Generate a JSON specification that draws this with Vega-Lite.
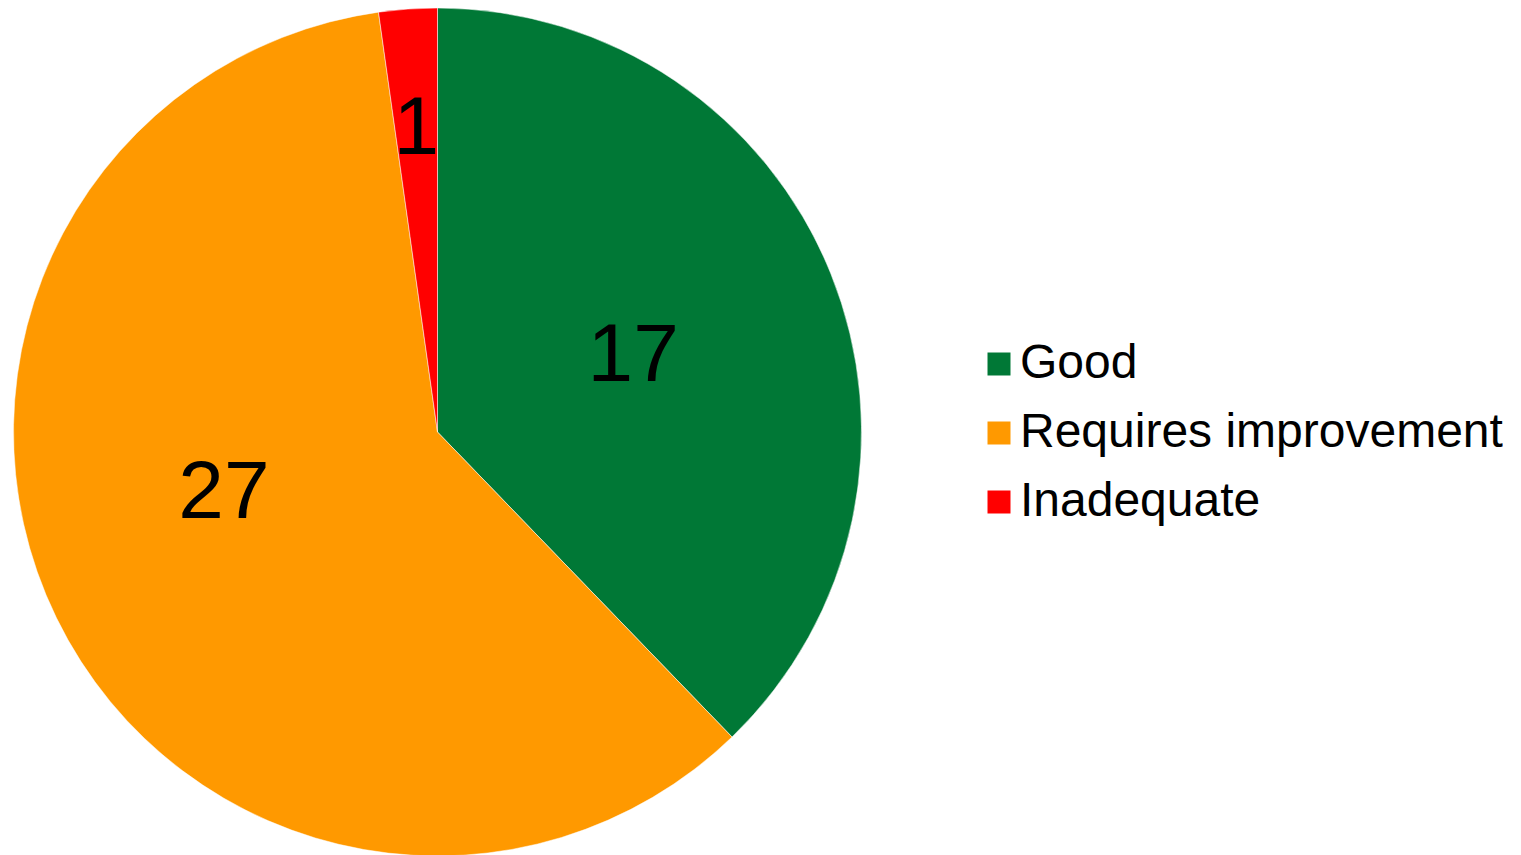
{
  "$schema": "https://vega.github.io/schema/vega-lite/v6.json",
  "width": 875,
  "height": 864,
  "padding": 0,
  "autosize": {"type": "pad"},
  "background": "white",
  "config": {"view": {"stroke": null}, "font": "Liberation Sans"},
  "data": {"values": [
    {"rating": "Good", "count": 17},
    {"rating": "Requires improvement", "count": 27},
    {"rating": "Inadequate", "count": 1}
  ]},
  "encoding": {
    "theta": {"field": "count", "type": "quantitative", "stack": true, "scale": {"range": [2.37365, 8.65684]}},
    "order": {"field": "rating", "sort": "descending"},
    "color": {
      "field": "rating", "type": "nominal",
      "sort": ["Good", "Requires improvement", "Inadequate"],
      "scale": {"domain": ["Good", "Requires improvement", "Inadequate"], "range": ["#007836", "#FF9900", "#FF0000"]},
      "legend": {
        "orient": "none", "legendX": 975, "legendY": 340,
        "title": null, "symbolType": "square", "symbolSize": 529,
        "symbolStrokeWidth": 0,
        "labelFontSize": 48, "labelFont": "Liberation Sans", "labelColor": "#000000",
        "labelOffset": -3, "rowPadding": 21, "padding": 0, "labelLimit": 800
      }
    }
  },
  "layer": [
    {"mark": {"type": "arc", "outerRadius": 424, "stroke": "#ffffff", "strokeWidth": 0.5}},
    {"mark": {"type": "text", "radius": 211, "dy": 3, "fontSize": 82, "font": "Liberation Sans"},
     "encoding": {"color": {"value": "#000000"}, "text": {"condition": {"test": "datum.rating === 'Good'", "field": "count", "type": "quantitative"}, "value": ""}}},
    {"mark": {"type": "text", "radius": 222, "dx": -14, "dy": -36, "fontSize": 82, "font": "Liberation Sans"},
     "encoding": {"color": {"value": "#000000"}, "text": {"condition": {"test": "datum.rating === 'Requires improvement'", "field": "count", "type": "quantitative"}, "value": ""}}},
    {"mark": {"type": "text", "radius": 305, "dy": 1, "fontSize": 82, "font": "Liberation Sans"},
     "encoding": {"color": {"value": "#000000"}, "text": {"condition": {"test": "datum.rating === 'Inadequate'", "field": "count", "type": "quantitative"}, "value": ""}}}
  ]
}
